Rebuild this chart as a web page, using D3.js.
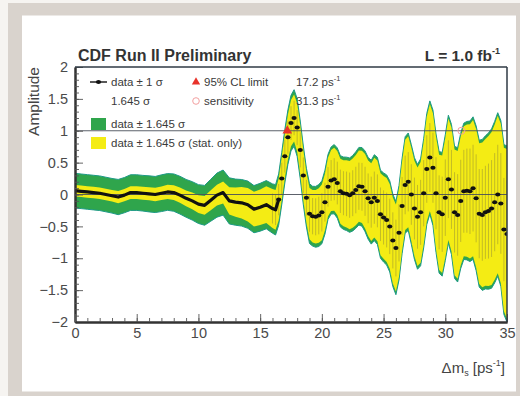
<!DOCTYPE html>
<html>
<head>
<meta charset="utf-8">
<script src="https://cdn.jsdelivr.net/npm/d3@7"></script>
<style>
  html, body { margin: 0; padding: 0; background: #f6f4f1; }
  svg { display: block; font-family: 'Liberation Sans', Arial, sans-serif; }
</style>
</head>
<body>
<svg id="chart" width="520" height="396"></svg>
<script>
// amplitude scan values (dm in ps^-1)
var dmValues = [
  0, 0.5, 1, 1.5, 2, 2.5, 3, 3.5, 4, 4.5, 5, 5.5, 6, 6.5, 7, 7.5,
  8, 8.5, 9, 9.5, 10, 10.5, 11, 11.5, 12, 12.5, 13, 13.5, 14, 14.5, 15, 15.5,
  16, 16.25, 16.5, 16.75, 17, 17.25, 17.5, 17.75, 18, 18.25, 18.5, 18.75,
  19, 19.25, 19.5, 19.75, 20, 20.25, 20.5, 20.75, 21, 21.25, 21.5, 21.75,
  22, 22.25, 22.5, 22.75, 23, 23.25, 23.5, 23.75, 24, 24.25, 24.5, 24.75,
  25, 25.25, 25.5, 25.75, 26, 26.25, 26.5, 26.75, 27, 27.25, 27.5, 27.75,
  28, 28.25, 28.5, 28.75, 29, 29.25, 29.5, 29.75, 30, 30.25, 30.5, 30.75,
  31, 31.25, 31.5, 31.75, 32, 32.25, 32.5, 32.75, 33, 33.25, 33.5, 33.75,
  34, 34.25, 34.5, 34.75, 35
];
var amplitude = [
  0.06, 0.05, 0.04, 0.03, 0.02, 0.00, -0.02, -0.04, -0.01, 0.03, 0.03, 0.02, 0.01, 0.00, 0.02, 0.04,
  0.03, -0.01, -0.06, -0.10, -0.15, -0.17, -0.09, -0.01, 0.03, -0.10, -0.12, -0.13, -0.16, -0.23, -0.20, -0.16,
  -0.22, -0.24, -0.08, 0.25, 0.60, 0.90, 1.12, 1.20, 1.05, 0.70, 0.30, -0.05,
  -0.30, -0.34, -0.35, -0.33, -0.28, -0.12, 0.12, 0.22, 0.24, 0.18, 0.05, 0.02,
  0.01, -0.01, 0.02, 0.07, 0.13, 0.12, 0.05, -0.06, -0.12, -0.05, -0.10, -0.31,
  -0.36, -0.40, -0.50, -0.72, -0.84, -0.60, -0.18, 0.15, 0.20, 0.00, -0.22, -0.35,
  -0.28, 0.02, 0.40, 0.58, 0.42, 0.02, -0.28, -0.31, -0.05, 0.24, 0.08, -0.28,
  -0.32, -0.10, 0.05, 0.06, 0.05, 0.10, -0.06, -0.30, -0.32, -0.28, -0.26, -0.22,
  -0.12, 0.00, -0.14, -0.55, -0.62
];
// total 1 sigma uncertainty
var sigmaTotal = [
  0.165, 0.165, 0.165, 0.165, 0.165, 0.165, 0.165, 0.168, 0.168, 0.17, 0.17, 0.17, 0.172, 0.172, 0.175, 0.175,
  0.178, 0.18, 0.18, 0.183, 0.185, 0.19, 0.2, 0.21, 0.215, 0.22, 0.22, 0.222, 0.225, 0.225, 0.228, 0.23,
  0.235, 0.24, 0.245, 0.25, 0.255, 0.26, 0.265, 0.27, 0.275, 0.275, 0.28, 0.28,
  0.285, 0.285, 0.29, 0.295, 0.30, 0.305, 0.31, 0.32, 0.33, 0.335, 0.34, 0.345,
  0.35, 0.355, 0.36, 0.365, 0.37, 0.375, 0.385, 0.39, 0.40, 0.41, 0.415, 0.42,
  0.425, 0.43, 0.435, 0.44, 0.445, 0.45, 0.455, 0.46, 0.465, 0.475, 0.485, 0.50,
  0.51, 0.52, 0.53, 0.54, 0.55, 0.565, 0.58, 0.59, 0.60, 0.61, 0.62, 0.63,
  0.64, 0.645, 0.65, 0.66, 0.67, 0.68, 0.69, 0.70, 0.72, 0.73, 0.745, 0.76,
  0.77, 0.78, 0.79, 0.81, 0.84
];
// statistical only 1 sigma uncertainty
var sigmaStat = [
  0.055, 0.055, 0.055, 0.055, 0.055, 0.055, 0.055, 0.058, 0.058, 0.06, 0.06, 0.062, 0.062, 0.065, 0.065, 0.068,
  0.07, 0.072, 0.075, 0.08, 0.085, 0.09, 0.095, 0.1, 0.105, 0.13, 0.14, 0.15, 0.16, 0.165, 0.17, 0.175,
  0.185, 0.19, 0.2, 0.205, 0.21, 0.215, 0.22, 0.225, 0.23, 0.235, 0.24, 0.24,
  0.245, 0.25, 0.255, 0.26, 0.265, 0.27, 0.28, 0.29, 0.3, 0.305, 0.31, 0.315,
  0.32, 0.325, 0.33, 0.335, 0.34, 0.345, 0.355, 0.36, 0.37, 0.38, 0.385, 0.39,
  0.395, 0.4, 0.405, 0.41, 0.415, 0.42, 0.425, 0.43, 0.435, 0.445, 0.455, 0.47,
  0.48, 0.49, 0.5, 0.51, 0.52, 0.535, 0.55, 0.56, 0.57, 0.58, 0.59, 0.6,
  0.61, 0.615, 0.62, 0.63, 0.64, 0.65, 0.66, 0.67, 0.69, 0.7, 0.715, 0.73,
  0.74, 0.75, 0.76, 0.78, 0.81
];

// limits
var limitDm = 17.2;
var sensitivityDm = 31.3;
var clFactor = 1.645;

// tick labels
var xTicks = [0, 5, 10, 15, 20, 25, 30, 35];
var yTicks = [-2, -1.5, -1, -0.5, 0, 0.5, 1, 1.5, 2];

var data = dmValues.map(function(d, i) {
  return { dm: d, amp: amplitude[i], tot: sigmaTotal[i], stat: sigmaStat[i] };
});

// layout
var margin = {top: 67, right: 13, bottom: 74, left: 75};
var width = 520 - margin.left - margin.right;
var height = 396 - margin.top - margin.bottom;

var x = d3.scaleLinear().domain([0, 35]).range([0, width]);
var y = d3.scaleLinear().domain([-2, 2]).range([height, 0]);

var svg = d3.select('#chart');

// page frame
svg.append('rect').attr('x', 8).attr('y', 3).attr('width', 512).attr('height', 393).attr('fill', '#d9d3cd');
svg.append('rect').attr('x', 22).attr('y', 15.5).attr('width', 494).attr('height', 376).attr('fill', '#ffffff');

var g = svg.append('g')
  .attr('transform', 'translate(' + margin.left + ',' + margin.top + ')');

g.append('clipPath').attr('id', 'plot-clip')
  .append('rect').attr('width', width).attr('height', height);

var plot = g.append('g').attr('clip-path', 'url(#plot-clip)');

// bands
var greenArea = d3.area()
  .x(function(d) { return x(d.dm); })
  .y0(function(d) { return y(d.amp - clFactor * d.tot); })
  .y1(function(d) { return y(d.amp + clFactor * d.tot); });

var yellowArea = d3.area()
  .x(function(d) { return x(d.dm); })
  .y0(function(d) { return y(d.amp - clFactor * d.stat); })
  .y1(function(d) { return y(d.amp + clFactor * d.stat); });

plot.append('path').datum(data)
  .attr('d', greenArea)
  .attr('fill', '#2fa54c')
  .attr('stroke', '#1c9a86')
  .attr('stroke-width', 1);

plot.append('path').datum(data)
  .attr('d', yellowArea)
  .attr('fill', '#f4ec14');

// error bars (1 sigma)
plot.selectAll('line.err')
  .data(data.filter(function(d) { return d.dm >= 16; }))
  .enter()
  .append('line')
    .attr('class', 'err')
    .attr('x1', function(d) { return x(d.dm); })
    .attr('x2', function(d) { return x(d.dm); })
    .attr('y1', function(d) { return y(d.amp - d.tot); })
    .attr('y2', function(d) { return y(d.amp + d.tot); })
    .attr('stroke', '#7a7340')
    .attr('stroke-opacity', 0.5)
    .attr('stroke-width', 0.8);

// reference lines at 0 and 1
[0, 1].forEach(function(v) {
  plot.append('line')
    .attr('x1', 0).attr('x2', width)
    .attr('y1', y(v)).attr('y2', y(v))
    .attr('stroke', '#4a4f5a')
    .attr('stroke-width', 0.9);
});

// data: dense part drawn as a thick line, sparse part as points
var line = d3.line()
  .x(function(d) { return x(d.dm); })
  .y(function(d) { return y(d.amp); });

plot.append('path')
  .datum(data.filter(function(d) { return d.dm <= 16.5; }))
  .attr('d', line)
  .attr('fill', 'none')
  .attr('stroke', '#111')
  .attr('stroke-width', 3.2)
  .attr('stroke-linejoin', 'round');

plot.selectAll('ellipse.pt')
  .data(data.filter(function(d) { return d.dm >= 16.5; }))
  .enter()
  .append('ellipse')
    .attr('class', 'pt')
    .attr('cx', function(d) { return x(d.dm); })
    .attr('cy', function(d) { return y(d.amp); })
    .attr('rx', 2.6)
    .attr('ry', 2)
    .attr('fill', '#111');

// 95% CL limit and sensitivity markers
var triangle = d3.symbol().type(d3.symbolTriangle).size(40);
plot.append('path')
  .attr('d', triangle)
  .attr('transform', 'translate(' + x(limitDm) + ',' + y(1) + ')')
  .attr('fill', '#e8322a');

plot.append('circle')
  .attr('cx', x(sensitivityDm)).attr('cy', y(1)).attr('r', 3.5)
  .attr('fill', 'none')
  .attr('stroke', '#f3a0a0')
  .attr('stroke-width', 1);

// axes
var fmt = function(d) { return d3.format('')(d); };

var yAxis = g.append('g')
  .call(d3.axisLeft(y).tickValues(yTicks).tickFormat(fmt).tickSizeInner(-8).tickSizeOuter(0).tickPadding(7));
var yMinor = g.append('g')
  .call(d3.axisLeft(y).tickValues(d3.range(-2, 2.01, 0.1)).tickFormat('').tickSizeInner(-4).tickSizeOuter(0));

var xAxis = g.append('g')
  .attr('transform', 'translate(0,' + height + ')')
  .call(d3.axisBottom(x).tickValues(xTicks).tickFormat(fmt).tickSizeInner(-8).tickSizeOuter(0).tickPadding(6));
var xMinor = g.append('g')
  .attr('transform', 'translate(0,' + height + ')')
  .call(d3.axisBottom(x).tickValues(d3.range(0, 35.01, 1)).tickFormat('').tickSizeInner(-4).tickSizeOuter(0));

[yAxis, yMinor, xAxis, xMinor].forEach(function(a) {
  a.selectAll('.domain').attr('stroke', '#333').attr('stroke-width', 2);
  a.selectAll('.tick line').attr('stroke', '#555').attr('stroke-width', 0.9);
  a.selectAll('.tick text')
    .attr('fill', '#4a4a4a')
    .style('font-size', '14.5px')
    .style('font-family', "'Liberation Sans', Arial, sans-serif");
});

// top and right frame
g.append('line').attr('x1', 0).attr('x2', width).attr('y1', 0).attr('y2', 0)
  .attr('stroke', '#2f3a44').attr('stroke-width', 1.3);
g.append('line').attr('x1', width).attr('x2', width).attr('y1', 0).attr('y2', height)
  .attr('stroke', '#2f3a44').attr('stroke-width', 1.5);

// titles
svg.append('text')
  .attr('x', 78).attr('y', 61)
  .attr('fill', '#333')
  .style('font-size', '16px').style('font-weight', 'bold')
  .text('CDF Run II Preliminary');

var lumi = svg.append('text')
  .attr('x', 500).attr('y', 61)
  .attr('text-anchor', 'end')
  .attr('fill', '#333')
  .style('font-size', '15.5px').style('font-weight', 'bold');
lumi.append('tspan').text('L = 1.0 fb');
lumi.append('tspan').attr('dy', -7).style('font-size', '9px').text('-1');

svg.append('text')
  .attr('transform', 'translate(39,67) rotate(-90)')
  .attr('text-anchor', 'end')
  .attr('fill', '#444')
  .style('font-size', '15.5px')
  .text('Amplitude');

var xTitle = svg.append('text')
  .attr('x', 505).attr('y', 373)
  .attr('text-anchor', 'end')
  .attr('fill', '#444')
  .style('font-size', '15px');
xTitle.append('tspan').text('\u0394m');
xTitle.append('tspan').attr('dy', 3).style('font-size', '9px').text('s');
xTitle.append('tspan').attr('dy', -3).text(' [ps');
xTitle.append('tspan').attr('dy', -7).style('font-size', '9px').text('-1');
xTitle.append('tspan').attr('dy', 7).text(']');

// legend
var legend = svg.append('g')
  .style('font-size', '11.5px')
  .attr('fill', '#3a3a3a');

legend.append('line').attr('x1', 90).attr('x2', 107).attr('y1', 82).attr('y2', 82)
  .attr('stroke', '#111').attr('stroke-width', 1.4);
legend.append('ellipse').attr('cx', 98.5).attr('cy', 82).attr('rx', 2.6).attr('ry', 2).attr('fill', '#111');
legend.append('text').attr('x', 111).attr('y', 86).text('data \u00b1 1 \u03c3');
legend.append('text').attr('x', 111).attr('y', 105).text('1.645 \u03c3');

legend.append('path').attr('d', d3.symbol().type(d3.symbolTriangle).size(30))
  .attr('transform', 'translate(196,82)').attr('fill', '#e8322a');
legend.append('text').attr('x', 204).attr('y', 86).text('95% CL limit');
var lim = legend.append('text').attr('x', 296).attr('y', 86);
lim.append('tspan').text(limitDm.toFixed(1) + ' ps');
lim.append('tspan').attr('dy', -5).style('font-size', '7.5px').text('-1');

legend.append('circle').attr('cx', 196).attr('cy', 101).attr('r', 3.3)
  .attr('fill', 'none').attr('stroke', '#f3a0a0').attr('stroke-width', 1);
legend.append('text').attr('x', 204).attr('y', 105).text('sensitivity');
var sens = legend.append('text').attr('x', 296).attr('y', 105);
sens.append('tspan').text(sensitivityDm.toFixed(1) + ' ps');
sens.append('tspan').attr('dy', -5).style('font-size', '7.5px').text('-1');

legend.append('rect').attr('x', 91).attr('y', 118).attr('width', 15).attr('height', 12).attr('fill', '#2fa54c');
legend.append('text').attr('x', 111).attr('y', 128).text('data \u00b1 1.645 \u03c3');
legend.append('rect').attr('x', 91).attr('y', 137).attr('width', 15).attr('height', 12).attr('fill', '#f4ec14');
legend.append('text').attr('x', 111).attr('y', 147).text('data \u00b1 1.645 \u03c3 (stat. only)');
</script>
</body>
</html>
